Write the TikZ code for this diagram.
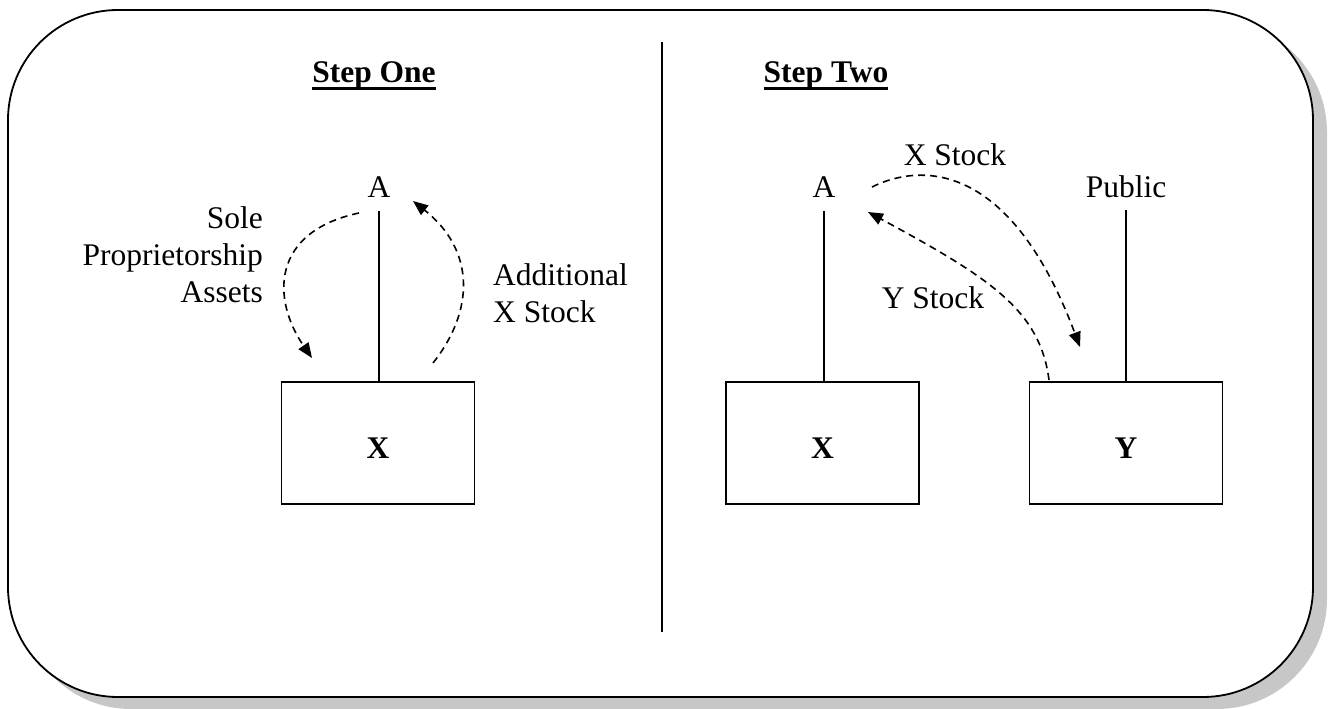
\documentclass[tikz,border=0pt]{standalone}
\usepackage{fontspec}
\setmainfont{Liberation Serif}
\usetikzlibrary{arrows.meta}
\tikzset{
  txt/.style={inner sep=0pt, font=\fontsize{31.5}{37}\selectfont},
  hd/.style={txt, font=\fontsize{31.5}{37}\selectfont\bfseries, anchor=base},
  boxnode/.style={draw, line width=1.8pt, minimum width=193pt, minimum height=122pt,
    inner sep=0pt, text height=30pt, text depth=0pt,
    font=\fontsize{31.5}{37}\selectfont\bfseries},
  solid line/.style={line width=1.8pt},
  flow/.style={line width=1.6pt, dash pattern=on 7pt off 5pt,
    -{Triangle[length=15pt,width=12pt]}},
}
\begin{document}
\begin{tikzpicture}[x=1pt,y=-1pt]
\useasboundingbox (0,0) rectangle (1334,709);
% frame with shadow
\fill[black!22, rounded corners=110pt] (21,22) rectangle (1327,709);
\draw[fill=white, line width=1.8pt, rounded corners=110pt] (8,10) rectangle (1313,697);
% divider
\draw[solid line] (662,42) -- (662,632);

% headings
\node[hd] (s1) at (374,83) {Step One};
\node[hd] (s2) at (826,83) {Step Two};
\draw[line width=3pt] ([yshift=-5.5pt]s1.base west) -- ([yshift=-5.5pt]s1.base east);
\draw[line width=3pt] ([yshift=-5.5pt]s2.base west) -- ([yshift=-5.5pt]s2.base east);

% Step one
\node[txt, anchor=base] (a1) at (379,197) {A};
\node[boxnode] (x1) at (378,443) {X};
\draw[solid line] ([yshift=-14pt]a1.base) -- (a1.base |- x1.north);
\node[txt, anchor=base east, align=right] (spa) at (263,302) {Sole\\Proprietorship\\Assets};
\node[txt, anchor=base west, align=left] (axs) at (493,322) {Additional\\X Stock};
\coordinate (l1s) at (359,213);
\coordinate (l1e) at (312,358);
\coordinate (r1s) at (433,363);
\coordinate (r1e) at (413,201);
\draw[flow] (l1s) .. controls (270,232) and (272,300) .. (l1e);
\draw[flow] (r1s) .. controls (475,310) and (475,250) .. (r1e);

% Step two
\node[txt, anchor=base] (a2) at (824,197) {A};
\node[txt, anchor=base] (pub) at (1126,197) {Public};
\node[boxnode] (x2) at (822.5,443) {X};
\node[boxnode] (y2) at (1126,443) {Y};
\draw[solid line] ([yshift=-14pt]a2.base) -- (a2.base |- x2.north);
\draw[solid line] ([yshift=-13pt]pub.base) -- (pub.base |- y2.north);
\node[txt, anchor=base] (xs) at (955,165) {X Stock};
\node[txt, anchor=base] (ys) at (933,308) {Y Stock};
\coordinate (xss) at (872,187);
\coordinate (xse) at (1080,347);
\coordinate (yss) at (1049,380);
\coordinate (yse) at (868,212);
\draw[flow] (xss) .. controls (920,163) and (1010,160) .. (xse);
\draw[flow] (yss) .. controls (1040,310) and (990,278) .. (yse);
\end{tikzpicture}
\end{document}
